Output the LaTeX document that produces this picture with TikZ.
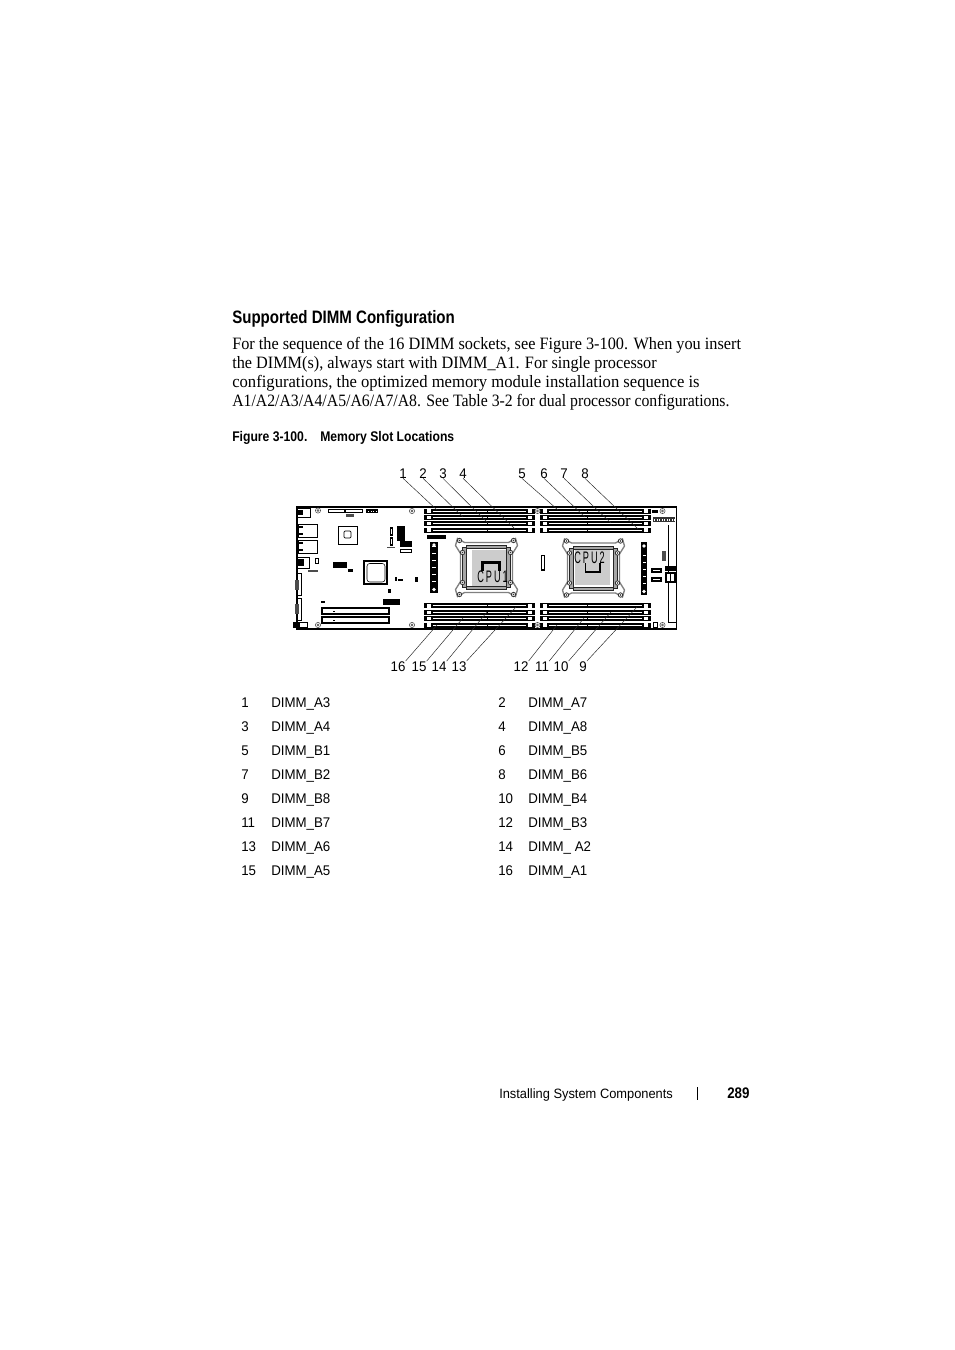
\documentclass[tikz,border=0pt]{standalone}
\usepackage{graphicx}
\usepackage{fontspec}
\setmainfont[FakeStretch=0.935]{Liberation Serif}
\newfontfamily\narrowsf[FakeStretch=0.95]{Liberation Sans}
\newfontfamily\titlesf[FakeStretch=0.837]{Liberation Sans}
\newfontfamily\headsf[FakeStretch=0.87]{Liberation Sans}
\newfontfamily\cpusf[FakeStretch=0.55,LetterSpace=12]{Liberation Sans}
\definecolor{sockgray}{gray}{0.5}
\definecolor{capgray}{gray}{0.8}
\tikzset{
  bodytext/.style={anchor=base west,inner sep=0pt,font=\fontsize{13pt}{15pt}\selectfont},
  headtext/.style={anchor=base west,inner sep=0pt,font=\titlesf\bfseries\fontsize{13.5pt}{15pt}\selectfont},
  captext/.style={anchor=base west,inner sep=0pt,font=\headsf\bfseries\fontsize{10.5pt}{12pt}\selectfont},
  celltext/.style={anchor=base west,inner sep=0pt,font=\narrowsf\fontsize{10.5pt}{12pt}\selectfont},
  calltext/.style={anchor=base,inner sep=0pt,font=\narrowsf\fontsize{10.5pt}{12pt}\selectfont},
  leader/.style={draw=black!85,line width=0.35pt},
  part/.style={draw=black,line width=0.5pt,fill=white},
  screw/.style={draw=black!70,line width=0.4pt,fill=white},
  sockline/.style={draw=sockgray,line width=1pt},
  sockframe/.style={draw=black!85,line width=0.5pt,fill=black!35},
}
\newcommand{\dimmslot}[4]{%
  \fill (#1,#3) rectangle (#2,#3+5);
  \fill[white] ({#1+9},#3+2) rectangle ({#2-9},#3+3.1);
  \fill[white] ({#1+3},#3+0.8) rectangle ({#1+7},#3+4.2);
  \fill[white] ({#2-7},#3+0.8) rectangle ({#2-3},#3+4.2);
  \fill (#4,#3+2) rectangle ({#4+0.8},#3+3.1);
}
\newcommand{\mountscrew}[2]{%
  \draw[screw] (#1,#2) circle (2.6);
  \draw[screw] (#1,#2) circle (1.1);
}
\newcommand{\cpusocket}[2]{%
  \begin{scope}[shift={(#1,#2)}]
    \draw[sockline] (-29,-29) -- (-22,-25) -- (22,-25) -- (29,-29) -- (31,-22) -- (26,-14) -- (26,14) -- (31,22) -- (29,29) -- (22,25) -- (-22,25) -- (-29,29) -- (-31,22) -- (-26,14) -- (-26,-14) -- (-31,-22) -- cycle;
    \draw[sockframe] (-24,-20) rectangle (-20,20);
    \draw[sockframe] (20,-20) rectangle (24,20);
    \draw[sockframe] (-20,-22) rectangle (20,-19);
    \draw[sockframe] (-20,19) rectangle (20,22);
    \foreach \sx/\sy in {-27/-27,27/-27,-27/27,27/27,-24/-15,24/-15,-24/15,24/15} {
      \draw[black!80,line width=0.6pt,fill=white] (\sx,\sy) circle (2.2);
      \fill[black!80] (\sx,\sy) circle (0.8);
    }
  \end{scope}
}
\begin{document}
\begin{tikzpicture}[x=0.75pt,y=-0.75pt]
\useasboundingbox (0,0) rectangle (954,1350);
\fill[white] (0,0) rectangle (954,1350);

% page text
\node[headtext] (title) at (232,323.3) {Supported DIMM Configuration};
\node[bodytext] (b1) at (232,349.7) {\scalebox{1.004}[1]{For the sequence of the 16 DIMM sockets, see Figure 3-100. When you insert}};
\node[bodytext] (b2) at (232,368.7) {\scalebox{1.002}[1]{the DIMM(s), always start with DIMM\_A1. For single processor}};
\node[bodytext] (b3) at (232,387.7) {\scalebox{1.026}[1]{configurations, the optimized memory module installation sequence is}};
\node[bodytext] (b4) at (232,406.7) {\scalebox{0.973}[1]{A1/A2/A3/A4/A5/A6/A7/A8. See Table 3-2 for dual processor configurations.}};
\node[captext] (figa) at (232,441.2) {Figure 3-100.};
\node[captext] (figb) at (320,441.2) {Memory Slot Locations};

% board outline
\draw[black,line width=1pt,fill=white] (297,507) rectangle (676.5,629);
\draw[black,line width=0.6pt] (668,525) -- (668,622) -- (676.5,622);

% DIMM slots
\foreach \yy in {508.5,514.8,521.2,527.5,603.3,609.7,616.2,622.6} {
  \dimmslot{424}{535}{\yy}{487}
  \dimmslot{540}{651}{\yy}{587}
}

% screws
\mountscrew{318}{510.5}
\mountscrew{412}{511}
\mountscrew{318}{625}
\mountscrew{412}{625}
\mountscrew{537.5}{511}
\mountscrew{537.5}{625}
\mountscrew{662.5}{511}
\mountscrew{662.5}{625}

% left edge parts
\draw[part] (297,508) rectangle (310,517);
\draw[part] (298,524) rectangle (317,537);
\draw[part] (298,540) rectangle (317,553);
\draw[part] (297,557) rectangle (309,568);
\fill (298,559) rectangle (304,566);
\fill (298,526) rectangle (303,528);
\fill (298,533) rectangle (303,535);
\fill (298,542) rectangle (303,544);
\fill (298,549) rectangle (303,551);
\fill (298,510) rectangle (303,515);
\draw[part] (297,573) rectangle (301,595);
\draw[part] (297,598) rectangle (301,620);
\fill[black!70] (295,580) rectangle (299,590);
\fill[black!70] (295,604) rectangle (299,614);
\draw[part] (293,622) rectangle (307,627);
\fill (293,622) rectangle (300,627);
\draw[part] (315,558) rectangle (318,563);
\fill[black!70] (308,569.5) rectangle (318,571.5);

% top-left parts
\draw[part] (328,509) rectangle (362,512);
\fill (344,509) rectangle (346,512);
\fill (366,509) rectangle (378,513);
\foreach \xx in {368,370.5,373,375.5} { \fill[white] (\xx,510.5) rectangle (\xx+0.8,511.5); }
\fill[black!70] (346,514) rectangle (354,517);
\draw[part,line width=0.7pt] (338,526) rectangle (357,544);
\draw[part,rounded corners=0.8pt] (344,531) rectangle (351,538);
\fill (333,562) rectangle (347,568);
\fill (348,569) rectangle (353,572);
\draw[part,line width=0.8pt] (364,561) rectangle (387,584);
\draw[draw=black,line width=0.4pt,rounded corners=2pt] (367,563.5) rectangle (385,582);

% central-left parts
\draw[part,line width=1pt] (390.5,528) rectangle (392.5,535);
\draw[part,line width=1pt] (390.5,538) rectangle (392.5,545);
\fill[black!70] (387,546.5) rectangle (395,547.5);
\fill (397,526) rectangle (405,541);
\fill (400,541) rectangle (412,547);
\draw[part,line width=0.8pt] (400.5,549.5) rectangle (411.5,552.5);
\fill (395,577) rectangle (397,581);
\fill (398,579) rectangle (403,581);
\fill (415,577) rectangle (418,582);
\fill (388,589) rectangle (391,593);
\fill (383,599) rectangle (400,605);
\fill (321,601) rectangle (325,603);
\draw[part,line width=0.9pt] (322,608) rectangle (389,614);
\draw[part,line width=0.9pt] (322,617) rectangle (389,623);
\fill (333,610.5) rectangle (335,611.5);
\fill (333,619.5) rectangle (335,620.5);

% vertical connectors
\fill (427,535) rectangle (446,539);
\fill (430,542) rectangle (438,593);
\foreach \yy in {546,553,560,567,574,581} { \fill[white] (432,\yy) rectangle (436,\yy+1); }
\draw[fill=white,draw=none] (434,589.5) circle (1.8);
\draw[fill=white,draw=none] (434,545) circle (1.8);
\draw[part,line width=0.8pt] (541.5,555.5) rectangle (544.5,570);
\fill (641,542) rectangle (647,595);
\foreach \yy in {555,562,569,576,583} { \fill[white] (642.5,\yy) rectangle (645.5,\yy+1); }
\draw[fill=white,draw=none] (644,591.5) circle (1.8);
\draw[fill=white,draw=none] (644,546) circle (1.8);

% right-hand parts
\fill (652,510) rectangle (658,513);
\fill[black!80] (652.5,517) rectangle (675,522);
\foreach \xx in {654,656.5,...,674} { \fill[white] (\xx,518.5) rectangle (\xx+1,520.5); }
\fill[black!70] (662,551) rectangle (666,561);
\fill (651,568) rectangle (662,573);
\fill (651,577) rectangle (662,582);
\fill[white] (653,570) rectangle (660,571);
\fill[white] (653,579) rectangle (660,580);
\fill (665,566) rectangle (676,571);
\fill (665,572) rectangle (676,583);
\fill[white] (667,574) rectangle (670,581);
\fill[white] (671,574) rectangle (674,581);
\draw[part] (653,622) rectangle (657,627);

% CPU sockets
\fill[capgray] (472,550) rectangle (510,588);
\fill[capgray] (575,550) rectangle (610,585);
\cpusocket{486.5}{567.5}
\cpusocket{593.5}{568}
\draw[black,line width=1.6pt] (482.5,571) -- (482.5,562.5) -- (499.5,562.5) -- (499.5,571);
\draw[black,line width=1.4pt] (585.5,563) -- (585.5,572) -- (600,572) -- (600,563);
\node[inner sep=0pt,font=\cpusf\fontsize{12.5pt}{15pt}\selectfont] (cpu1) at (492.5,577) {CPU1};
\node[inner sep=0pt,font=\cpusf\fontsize{12.5pt}{15pt}\selectfont] (cpu2) at (589.5,557.5) {CPU2};

% leaders
\foreach \n/\lx/\ex/\ey in {1/403/437/510,2/423/463/517,3/443/488/523,4/463/515/529,
                            5/522/558/510,6/544/585/517,7/564/611/523,8/585/638/529} {
  \node[calltext] (l\n) at (\lx,478) {\n};
  \coordinate (e\n) at (\ex,\ey);
  \draw[leader] (l\n.south) -- (e\n);
}
\foreach \n/\lx/\ex/\ey in {16/398/437/625,15/419/463/618,14/439/487/612,13/459/516/607,
                            12/521/557/625,11/542/584/618,10/561/611/612,9/583/637/607} {
  \node[calltext] (l\n) at (\lx,671) {\n};
  \coordinate (e\n) at (\ex,\ey);
  \draw[leader] (l\n.north east) -- (e\n);
}

% table
\foreach \yy/\na/\ta/\nb/\tb in {
  707/1/DIMM\_A3/2/DIMM\_A7,
  731/3/DIMM\_A4/4/DIMM\_A8,
  755/5/DIMM\_B1/6/DIMM\_B5,
  779/7/DIMM\_B2/8/DIMM\_B6,
  803/9/DIMM\_B8/10/DIMM\_B4,
  827/11/DIMM\_B7/12/DIMM\_B3,
  851/13/DIMM\_A6/14/DIMM\_ A2,
  875/15/DIMM\_A5/16/DIMM\_A1} {
  \node[celltext] (na\na) at (241,\yy) {\na};
  \node[celltext] (ta\na) at (271,\yy) {\ta};
  \node[celltext] (na\nb) at (498,\yy) {\nb};
  \node[celltext] (ta\nb) at (528,\yy) {\tb};
}

% footer
\node[celltext,font=\narrowsf\fontsize{10.15pt}{12pt}\selectfont] (foot) at (499,1098) {Installing System Components};
\coordinate (ruletop) at (697,1087);
\coordinate (rulebot) at (697,1100);
\draw[black,line width=0.5pt] (ruletop) -- (rulebot);
\node[captext,font=\headsf\bfseries\fontsize{11.5pt}{13pt}\selectfont] (pageno) at (727,1098) {289};
\end{tikzpicture}
\end{document}
